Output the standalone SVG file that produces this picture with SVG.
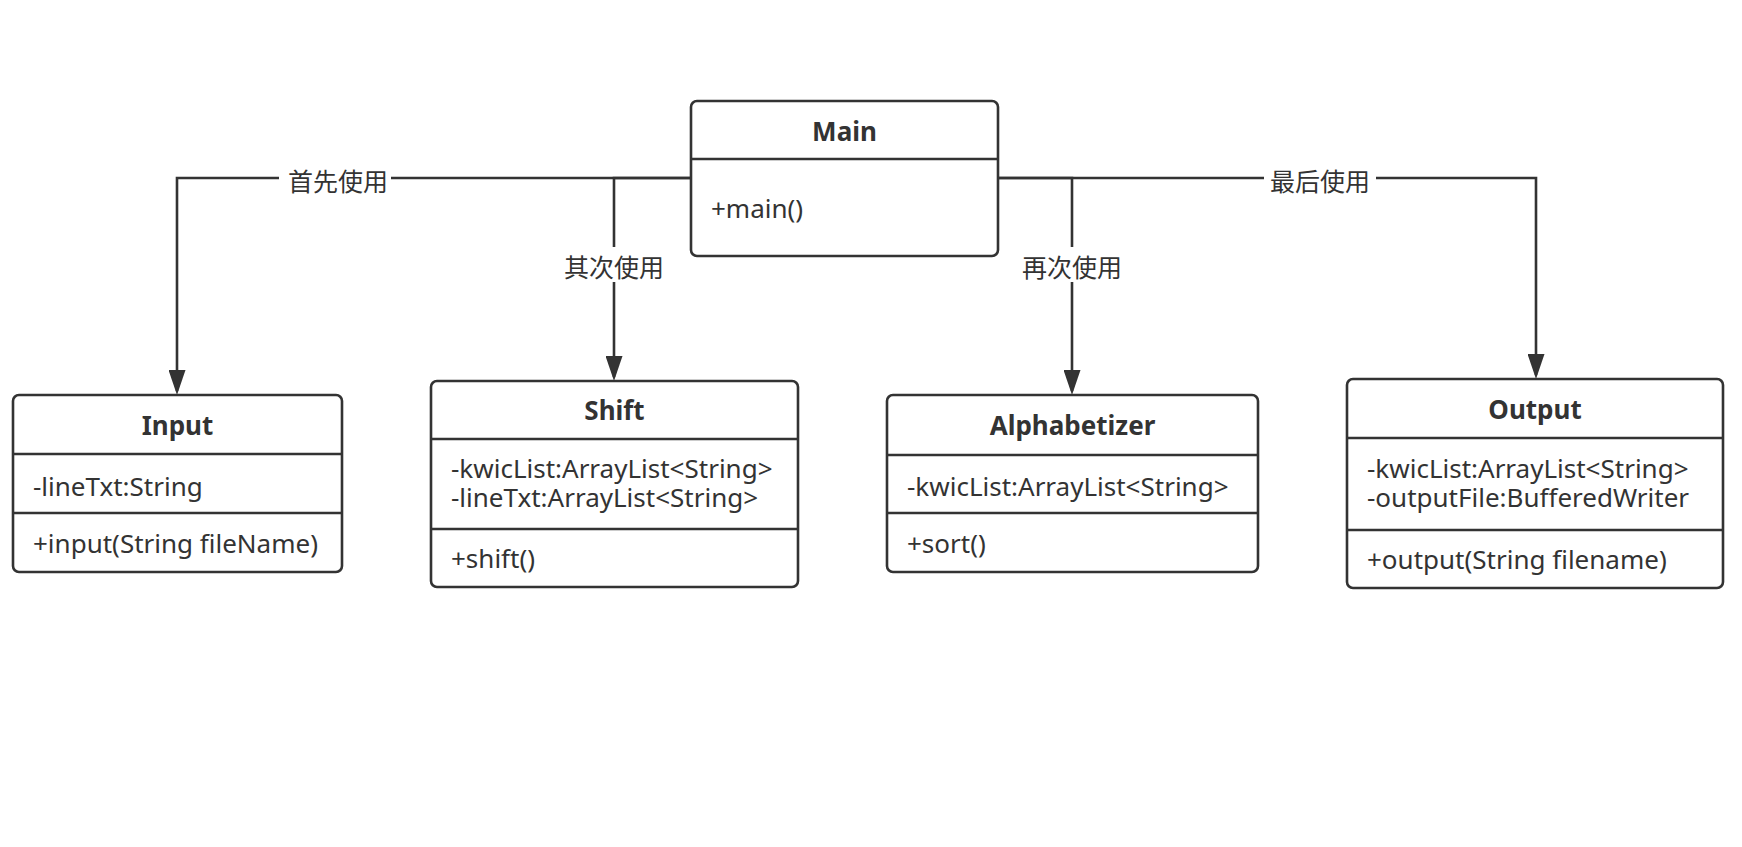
<svg xmlns="http://www.w3.org/2000/svg" width="1742" height="847" viewBox="0 0 1742 847">
<defs>
<marker id="arrow" markerUnits="userSpaceOnUse" markerWidth="25" markerHeight="17" viewBox="0 0 25 17" refX="21" refY="8.5" orient="auto">
<path d="M0,0 L25,8.5 L0,17 z" fill="#333333"/>
</marker>
<style>
.box{fill:#ffffff;stroke:#333333;stroke-width:2.6}
.div{stroke:#333333;stroke-width:2.6}
.title{font-family:"Noto Sans","Liberation Sans",sans-serif;font-weight:bold;font-size:26px;fill:#333333;text-anchor:middle}
.txt{font-family:"Noto Sans","Liberation Sans",sans-serif;font-size:26px;fill:#333333}
.edge{fill:none;stroke:#333333;stroke-width:2.6}
.lbl{font-family:"Noto Sans CJK SC","Noto Sans",sans-serif;font-size:25px;fill:#333333;text-anchor:middle}
.lblbg{fill:#ffffff}
</style>
</defs>
<rect width="1742" height="847" fill="#ffffff"/>
<g id="connectors">
<path class="edge" d="M691,178 H177 V391" marker-end="url(#arrow)"/>
<path class="edge" d="M691,178 H614 V377" marker-end="url(#arrow)"/>
<path class="edge" d="M998,178 H1072 V391" marker-end="url(#arrow)"/>
<path class="edge" d="M998,178 H1536 V375" marker-end="url(#arrow)"/>
<rect class="lblbg" x="279" y="165" width="112" height="30"/>
<text class="lbl" x="338" y="191">首先使用</text>
<rect class="lblbg" x="562" y="247" width="104" height="35"/>
<text class="lbl" x="614" y="277">其次使用</text>
<rect class="lblbg" x="1020" y="247" width="104" height="35"/>
<text class="lbl" x="1072" y="277">再次使用</text>
<rect class="lblbg" x="1264" y="165" width="112" height="30"/>
<text class="lbl" x="1320" y="191">最后使用</text>
</g>
<g id="main">
<rect class="box" x="691" y="101" width="307" height="155" rx="6"/>
<line class="div" x1="691" y1="159" x2="998" y2="159"/>
<text class="title" x="844.5" y="141">Main</text>
<text class="txt" x="711" y="218">+main()</text>
</g>
<g id="input">
<rect class="box" x="13" y="395" width="329" height="177" rx="6"/>
<line class="div" x1="13" y1="454" x2="342" y2="454"/>
<line class="div" x1="13" y1="513" x2="342" y2="513"/>
<text class="title" x="177.5" y="435">Input</text>
<text class="txt" x="33" y="496">-lineTxt:String</text>
<text class="txt" x="33" y="553">+input(String fileName)</text>
</g>
<g id="shift">
<rect class="box" x="431" y="381" width="367" height="206" rx="6"/>
<line class="div" x1="431" y1="439" x2="798" y2="439"/>
<line class="div" x1="431" y1="529" x2="798" y2="529"/>
<text class="title" x="614.5" y="420">Shift</text>
<text class="txt" x="451" y="478">-kwicList:ArrayList&lt;String&gt;</text>
<text class="txt" x="451" y="507">-lineTxt:ArrayList&lt;String&gt;</text>
<text class="txt" x="451" y="568">+shift()</text>
</g>
<g id="alphabetizer">
<rect class="box" x="887" y="395" width="371" height="177" rx="6"/>
<line class="div" x1="887" y1="455" x2="1258" y2="455"/>
<line class="div" x1="887" y1="513" x2="1258" y2="513"/>
<text class="title" x="1072.5" y="435">Alphabetizer</text>
<text class="txt" x="907" y="496">-kwicList:ArrayList&lt;String&gt;</text>
<text class="txt" x="907" y="553">+sort()</text>
</g>
<g id="output">
<rect class="box" x="1347" y="379" width="376" height="209" rx="6"/>
<line class="div" x1="1347" y1="438" x2="1723" y2="438"/>
<line class="div" x1="1347" y1="530" x2="1723" y2="530"/>
<text class="title" x="1535" y="419">Output</text>
<text class="txt" x="1367" y="478">-kwicList:ArrayList&lt;String&gt;</text>
<text class="txt" x="1367" y="507">-outputFile:BufferedWriter</text>
<text class="txt" x="1367" y="569">+output(String filename)</text>
</g>
</svg>
